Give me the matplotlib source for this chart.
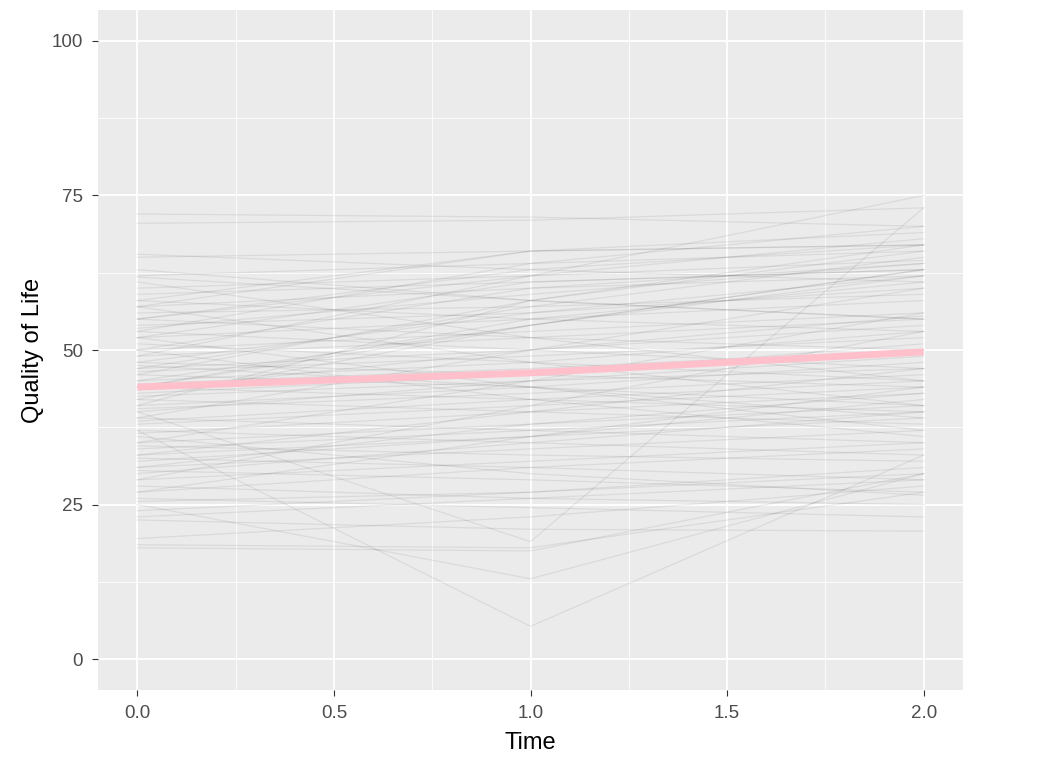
import matplotlib
matplotlib.use("Agg")
import matplotlib.pyplot as plt

plt.rcParams['font.family'] = ['Liberation Sans', 'DejaVu Sans']

times = [0, 1, 2]

# quality of life per subject at times 0, 1, 2
qol_t0 = [72, 70.5, 65, 65.5, 62, 61.8, 60, 59, 58, 57, 56, 55, 54, 53, 52, 51, 50, 49, 48, 47,
          46.5, 46, 45, 44.5, 44, 43, 42.5, 42, 41, 40.5, 40, 39, 38.5, 38, 37, 36.5, 37, 35, 34.5, 34,
          33, 32.5, 32, 31, 30.5, 30, 29, 28, 27, 26, 25, 24, 23, 22.5, 18.5, 18, 40, 55, 63, 58,
          48, 35, 29, 52, 44, 33, 61, 27, 39, 50, 45, 31, 57, 41, 36, 25.5, 19.5, 43.5, 53.5, 47.5,
          49, 53, 46, 57, 50, 44, 55, 47, 52, 42]
qol_t1 = [71.5, 71, 66, 63, 64, 58, 62, 61, 55, 60, 57, 52, 56, 50, 55, 48, 53, 52, 46, 50,
          49, 44, 48, 47, 42, 46, 45, 40, 44, 43, 45, 37, 42, 41, 35, 40, 5.3, 38, 33, 37,
          36, 31, 36, 34, 29, 35, 32, 26, 31, 24.5, 13, 27, 26, 21, 18, 17.5, 19, 62, 58, 66,
          56, 45, 41, 44, 54, 40, 52, 36, 50, 42, 54, 38, 48, 58, 30, 27, 23, 50, 59, 44,
          62, 64, 58, 66, 60, 55, 63, 57, 61, 54]
qol_t2 = [70, 73, 67, 61, 66, 55, 64.5, 63, 53, 62, 59, 50, 60, 47, 58, 45, 56, 55, 44, 54,
          52, 41, 53, 50, 40, 51, 47, 38, 48, 46, 49, 35, 45, 44, 33, 43, 33, 41, 32, 40,
          39, 29, 42, 37, 27, 40, 35, 25, 34, 23, 30, 30, 29, 20.7, 27, 30, 73, 75, 55, 67,
          62, 56, 53, 37, 63, 47, 45, 44, 60, 36, 63, 43, 41, 67, 26.5, 31, 28, 55.5, 64, 39,
          68, 70, 66, 69, 64, 61, 67, 65, 63, 62]

# average trajectory (pink line)
mean_qol = [44.0, 46.3, 49.7]

x_ticks = [0.0, 0.5, 1.0, 1.5, 2.0]
x_tick_labels = ["0.0", "0.5", "1.0", "1.5", "2.0"]
y_ticks = [0, 25, 50, 75, 100]
y_tick_labels = ["0", "25", "50", "75", "100"]

fig = plt.figure(figsize=(10.44, 7.67), dpi=100)
ax = fig.add_axes([98/1044, 1 - 690/767, (963 - 98)/1044, (690 - 10)/767])
ax.set_facecolor("#EBEBEB")
for s in ax.spines.values():
    s.set_visible(False)

for a, b, c in zip(qol_t0, qol_t1, qol_t2):
    ax.plot(times, [a, b, c], color="black", alpha=0.07, linewidth=0.9, zorder=2)

ax.plot(times, mean_qol, color="#FFC0CB", linewidth=5, zorder=3, solid_capstyle="butt")

ax.set_xlim(-0.1, 2.1)
ax.set_ylim(-5, 105)
ax.set_xticks(x_ticks)
ax.set_xticklabels(x_tick_labels)
ax.set_yticks(y_ticks)
ax.set_yticklabels(y_tick_labels)
ax.set_xticks([0.25, 0.75, 1.25, 1.75], minor=True)
ax.set_yticks([12.5, 37.5, 62.5, 87.5], minor=True)
ax.grid(which="major", color="white", linewidth=1.3, zorder=1)
ax.grid(which="minor", color="white", linewidth=0.6, zorder=1)
ax.set_axisbelow(True)
ax.tick_params(which="major", color="#333333", length=4, width=0.8, labelsize=13.5,
               labelcolor="#4D4D4D")
ax.tick_params(axis="x", which="major", pad=7)
ax.tick_params(axis="y", which="major", pad=7)
ax.tick_params(which="minor", length=0)

ax.set_xlabel("Time", fontsize=17, color="black", labelpad=7)
ax.set_ylabel("Quality of Life", fontsize=17, color="black", labelpad=5)

fig.savefig("out.png", dpi=100)
